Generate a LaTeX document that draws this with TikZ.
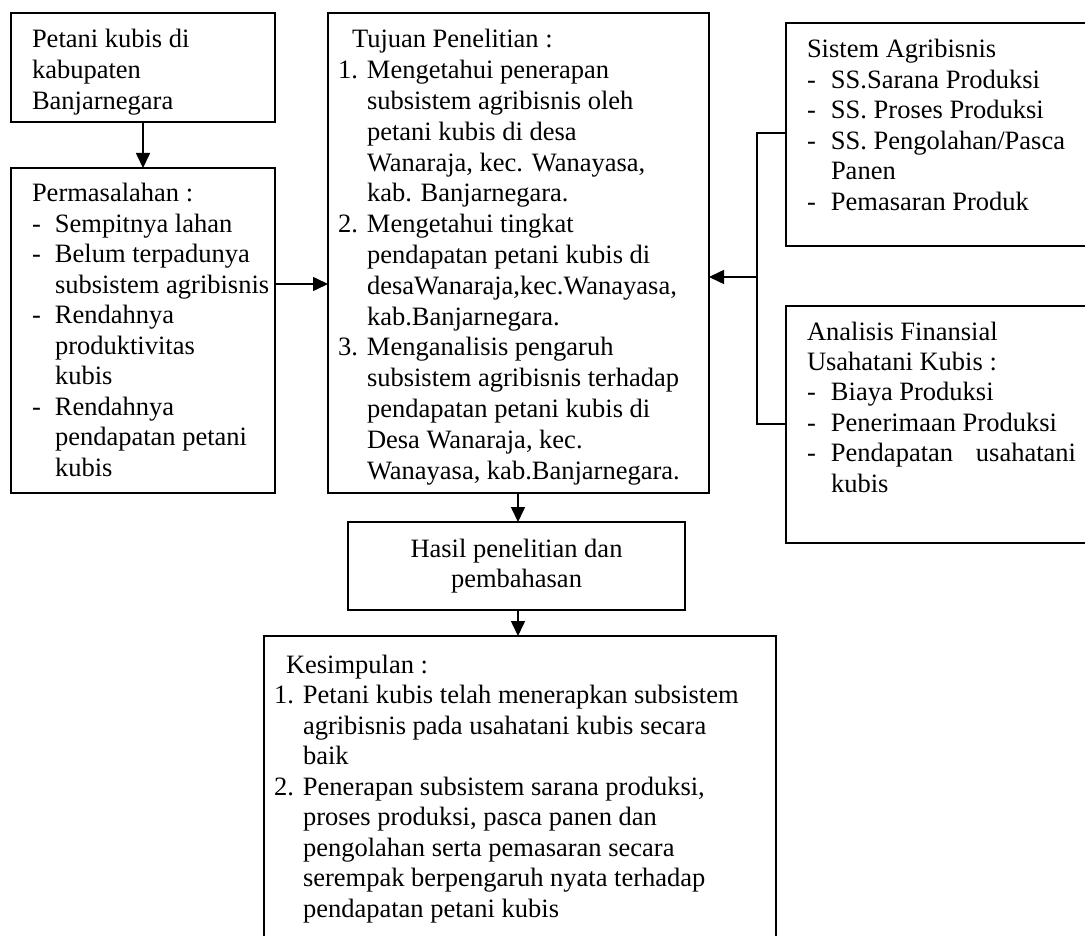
\documentclass[tikz,border=0pt]{standalone}
\usepackage{fontspec}
\setmainfont{Liberation Serif}
\usetikzlibrary{arrows.meta}
\tikzset{
  box/.style={draw=black, line width=1.6pt, inner sep=0pt, outer sep=0pt, anchor=north west},
  txt/.style={inner sep=0pt, outer sep=0pt, anchor=base west, font=\fontsize{26.5}{30.5}\selectfont},
  conn/.style={line width=1.6pt},
  arr/.style={line width=1.6pt, -{Triangle[length=15pt,width=14pt]}}
}
\begin{document}
\begin{tikzpicture}[x=1pt,y=-1pt]
\useasboundingbox (0,0) rectangle (1085,936);
\clip (0,0) rectangle (1085,936);
\fill[white] (0,0) rectangle (1085,936);

% boxes
\node[box, minimum width=264pt, minimum height=109pt] (A) at (11,13) {};
\node[box, minimum width=264pt, minimum height=325pt] (B) at (11,168) {};
\node[box, minimum width=381pt, minimum height=480pt] (T) at (328,13) {};
\node[box, minimum width=320pt, minimum height=223pt] (S) at (786,23) {};
\node[box, minimum width=320pt, minimum height=237pt] (F) at (786,306) {};
\node[box, minimum width=337pt, minimum height=88pt] (H) at (348,522) {};
\node[box, minimum width=512pt, minimum height=330pt] (K) at (264,636) {};

% texts
\node[txt, font=\fontsize{26.5}{31}\selectfont] (At) at (32,48) {%
\begin{tabular}[t]{@{}l@{}}Petani kubis di\\ kabupaten\\ Banjarnegara\end{tabular}};

\node[txt] (Bt) at (32,202) {%
\begin{tabular}[t]{@{}p{23pt}@{}l@{}}
\multicolumn{2}{@{}l@{}}{Permasalahan :}\\
- & Sempitnya lahan\\
- & Belum terpadunya\\
  & subsistem agribisnis\\
- & Rendahnya\\
  & produktivitas\\
  & kubis\\
- & Rendahnya\\
  & pendapatan petani\\
  & kubis
\end{tabular}};

\node[txt, font=\fontsize{26.5}{30.8}\selectfont] (Tt) at (338,48) {%
\begin{tabular}[t]{@{}p{29pt}@{}l@{}}
\multicolumn{2}{@{\hspace{14pt}}l@{}}{Tujuan Penelitian :}\\
1. & Mengetahui penerapan\\
   & subsistem agribisnis oleh\\
   & petani kubis di desa\\
   & Wanaraja, kec. Wanayasa,\\
   & kab. Banjarnegara.\\
2. & Mengetahui tingkat\\
   & pendapatan petani kubis di\\
   & desaWanaraja,kec.Wanayasa,\\
   & kab.Banjarnegara.\\
3. & Menganalisis pengaruh\\
   & subsistem agribisnis terhadap\\
   & pendapatan petani kubis di\\
   & Desa Wanaraja, kec.\\
   & Wanayasa, kab.Banjarnegara.
\end{tabular}};

\node[txt] (St) at (807,58) {%
\begin{tabular}[t]{@{}p{24pt}@{}l@{}}
\multicolumn{2}{@{}l@{}}{Sistem Agribisnis}\\
- & SS.Sarana Produksi\\
- & SS. Proses Produksi\\
- & SS. Pengolahan/Pasca\\
  & Panen\\
- & Pemasaran Produk
\end{tabular}};

\node[txt] (Ft) at (807,340) {%
\begin{tabular}[t]{@{}p{24pt}@{}l@{}}
\multicolumn{2}{@{}l@{}}{Analisis Finansial}\\
\multicolumn{2}{@{}l@{}}{Usahatani Kubis :}\\
- & Biaya Produksi\\
- & Penerimaan Produksi\\
- & \hbox to 245pt{Pendapatan\hfill usahatani}\\
  & kubis
\end{tabular}};

\node[txt, anchor=base] (Ht) at (516.5,557) {%
\begin{tabular}[t]{@{}c@{}}Hasil penelitian dan\\ pembahasan\end{tabular}};

\node[txt] (Kt) at (274,673) {%
\begin{tabular}[t]{@{}p{29pt}@{}l@{}}
\multicolumn{2}{@{\hspace{12pt}}l@{}}{Kesimpulan :}\\
1. & Petani kubis telah menerapkan subsistem\\
   & agribisnis pada usahatani kubis secara\\
   & baik\\
2. & Penerapan subsistem sarana produksi,\\
   & proses produksi, pasca panen dan\\
   & pengolahan serta pemasaran secara\\
   & serempak berpengaruh nyata terhadap\\
   & pendapatan petani kubis
\end{tabular}};

% connectors
\coordinate (m1) at (0,284);
\coordinate (bt) at (757,133);
\coordinate (bm) at (757,277);
\coordinate (bb) at (757,424);
\coordinate (kx) at (518,0);

\draw[arr] (A.south) -- (B.north);
\draw[arr] (B.east |- m1) -- (T.west |- m1);
\draw[conn] (S.west |- bt) -- (bt) -- (bb) -- (F.west |- bb);
\draw[arr] (bm) -- (T.east |- bm);
\draw[arr] (T.south -| kx) -- (H.north -| kx);
\draw[arr] (H.south -| kx) -- (K.north -| kx);
\end{tikzpicture}
\end{document}
